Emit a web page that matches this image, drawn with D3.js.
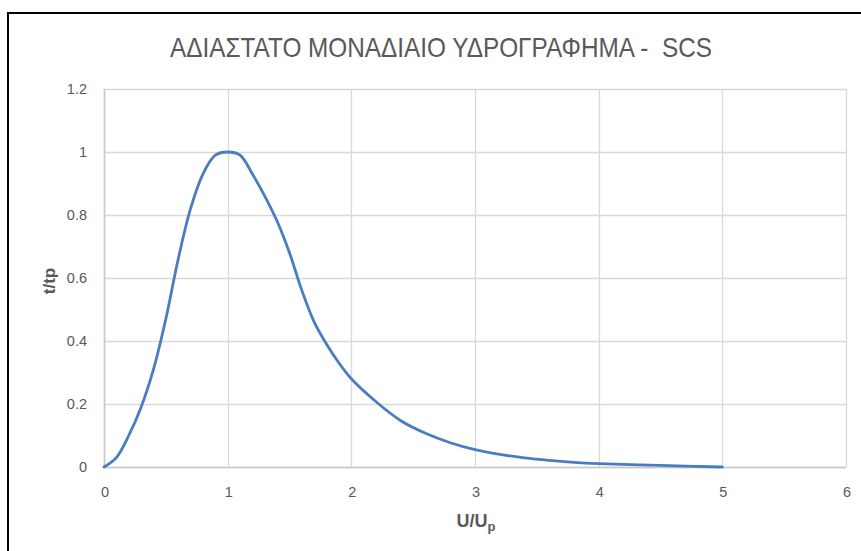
<!DOCTYPE html>
<html>
<head>
<meta charset="utf-8">
<script src="https://cdn.jsdelivr.net/npm/d3@7"></script>
<style>
  body { margin: 0; background: #fff; }
  svg { display: block; font-family: "Liberation Sans", Arial, sans-serif; }
</style>
</head>
<body>
<svg id="chart"></svg>
<script>
// SCS dimensionless unit hydrograph
const ratioX = [0, 0.1, 0.2, 0.3, 0.4, 0.5, 0.6, 0.7, 0.8, 0.9, 1.0, 1.1, 1.2, 1.3, 1.4, 1.5, 1.6, 1.7, 1.8, 1.9, 2.0, 2.2, 2.4, 2.6, 2.8, 3.0, 3.2, 3.4, 3.6, 3.8, 4.0, 4.5, 5.0];
const ratioY = [0, 0.03, 0.1, 0.19, 0.31, 0.47, 0.66, 0.82, 0.93, 0.99, 1.0, 0.99, 0.93, 0.86, 0.78, 0.68, 0.56, 0.46, 0.39, 0.33, 0.28, 0.207, 0.147, 0.107, 0.077, 0.055, 0.04, 0.029, 0.021, 0.015, 0.011, 0.005, 0];
const xTicks = [0, 1, 2, 3, 4, 5, 6];
const yTicks = [0, 0.2, 0.4, 0.6, 0.8, 1, 1.2];

const w = 861;
const h = 551;

const svg = d3.select("#chart").attr("width", w).attr("height", h);

// outer frame (cut off on right and bottom)
svg.append("rect")
  .attr("x", 9).attr("y", 14)
  .attr("width", w).attr("height", h)
  .attr("fill", "none").attr("stroke", "#bdbdbd").attr("stroke-width", 2);
svg.append("rect")
  .attr("x", 8).attr("y", 13)
  .attr("width", w).attr("height", h)
  .attr("fill", "#fff").attr("stroke", "#000").attr("stroke-width", 2);

const x = d3.scaleLinear().domain([0, 6]).range([104, 846]);
const y = d3.scaleLinear().domain([0, 1.2]).range([467, 89]);

// grid
svg.append("g")
  .selectAll("line")
  .data(yTicks)
  .enter()
  .append("line")
  .attr("x1", x(0)).attr("x2", x(6))
  .attr("y1", (d) => Math.round(y(d)) + 0.5)
  .attr("y2", (d) => Math.round(y(d)) + 0.5)
  .attr("stroke", "#d9d9d9").attr("stroke-width", 1.3);

svg.append("g")
  .selectAll("line")
  .data(xTicks)
  .enter()
  .append("line")
  .attr("y1", y(0)).attr("y2", y(1.2))
  .attr("x1", (d) => Math.round(x(d)) + 0.5)
  .attr("x2", (d) => Math.round(x(d)) + 0.5)
  .attr("stroke", "#d9d9d9").attr("stroke-width", 1.3);

// axes lines
svg.append("line")
  .attr("x1", x(0)).attr("x2", x(6))
  .attr("y1", Math.round(y(0)) + 0.5).attr("y2", Math.round(y(0)) + 0.5)
  .attr("stroke", "#c8c8c8").attr("stroke-width", 1.5);
svg.append("line")
  .attr("x1", Math.round(x(0)) + 0.5).attr("x2", Math.round(x(0)) + 0.5)
  .attr("y1", y(0)).attr("y2", y(1.2))
  .attr("stroke", "#c8c8c8").attr("stroke-width", 1.5);

// tick labels
svg.append("g")
  .selectAll("text")
  .data(yTicks)
  .enter()
  .append("text")
  .attr("x", 87)
  .attr("y", (d) => y(d) + 5)
  .attr("text-anchor", "end")
  .attr("font-size", 14.5)
  .attr("fill", "#595959")
  .text((d) => d);

svg.append("g")
  .selectAll("text")
  .data(xTicks)
  .enter()
  .append("text")
  .attr("x", (d) => x(d) + 1)
  .attr("y", 497)
  .attr("text-anchor", "middle")
  .attr("font-size", 14.5)
  .attr("fill", "#595959")
  .text((d) => d);

// title
svg.append("text")
  .attr("x", 441)
  .attr("y", 57)
  .attr("text-anchor", "middle")
  .attr("font-size", 28)
  .attr("fill", "#595959")
  .attr("textLength", 542)
  .attr("lengthAdjust", "spacingAndGlyphs")
  .attr("xml:space", "preserve")
  .text("ΑΔΙΑΣΤΑΤΟ ΜΟΝΑΔΙΑΙΟ ΥΔΡΟΓΡΑΦΗΜΑ -  SCS");

// axis titles
const xt = svg.append("text")
  .attr("x", 476)
  .attr("y", 527)
  .attr("text-anchor", "middle")
  .attr("font-size", 18)
  .attr("font-weight", "bold")
  .attr("fill", "#595959");
xt.append("tspan").text("U/U");
xt.append("tspan").attr("dy", 4).attr("font-size", 13).text("p");

svg.append("text")
  .attr("transform", "translate(55, 281) rotate(-90)")
  .attr("text-anchor", "middle")
  .attr("font-size", 17)
  .attr("font-weight", "bold")
  .attr("fill", "#595959")
  .text("t/tp");

// curve
const points = ratioX.map((d, i) => [d, ratioY[i]]);
const line = d3.line()
  .x((d) => x(d[0]))
  .y((d) => y(d[1]))
  .curve(d3.curveCatmullRom.alpha(0.5));

svg.append("path")
  .datum(points)
  .attr("d", line)
  .attr("fill", "none")
  .attr("stroke", "#4a7dbf")
  .attr("stroke-width", 2.8)
  .attr("stroke-linejoin", "round")
  .attr("stroke-linecap", "round");
</script>
</body>
</html>
